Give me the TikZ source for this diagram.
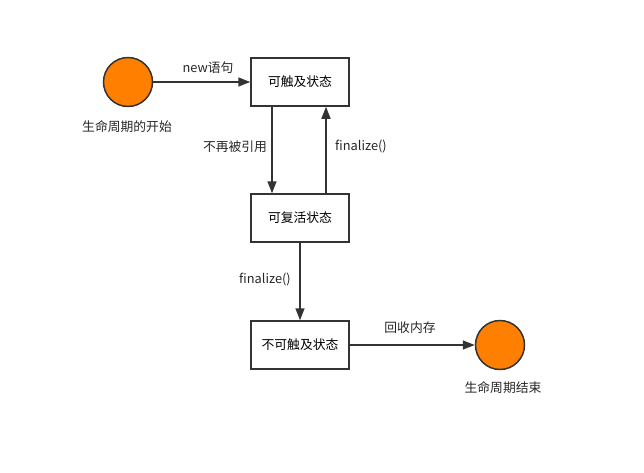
\documentclass[tikz,border=0pt]{standalone}
\usepackage{fontspec}
\setmainfont{Noto Sans CJK SC}
\usetikzlibrary{arrows.meta}

\definecolor{linegray}{HTML}{333333}
\definecolor{dotorange}{HTML}{FF8000}

\tikzset{
	state/.style={draw=linegray, line width=1.5pt, minimum width=98pt, minimum height=48pt, inner sep=0pt, font=\fontsize{12.8}{15}\selectfont},
	endpoint/.style={circle, draw=linegray, fill=dotorange, line width=1.5pt, minimum size=49pt, inner sep=0pt},
	lbl/.style={font=\fontsize{12.8}{15}\selectfont, text=black!85, inner sep=0pt},
	flow/.style={->, line width=1.5pt, draw=linegray},
}

\begin{document}
\begin{tikzpicture}[x=1pt, y=-1pt, >={Triangle[length=12pt,width=9pt]}]
	\useasboundingbox (0,0) rectangle (644,472);
	
	% Start and end points
	\node[endpoint] (start) at (128,82) {};
	\node[lbl] (startlbl) at (127,127) {生命周期的开始};
	\node[endpoint] (finish) at (500,345) {};
	\node[lbl] (finishlbl) at (503,388) {生命周期结束};
	
	% States
	\node[state] (reach) at (300,82) {可触及状态};
	\node[state] (revive) at (300,218) {可复活状态};
	\node[state] (unreach) at (300,345) {不可触及状态};
	
	% Transitions
	\draw[flow] (start) -- (reach);
	\draw[flow] ([xshift=-28pt]reach.south) -- ([xshift=-28pt]revive.north);
	\draw[flow] ([xshift=26pt]revive.north) -- ([xshift=26pt]reach.south);
	\draw[flow] (revive) -- (unreach);
	\draw[flow] (unreach) -- (finish);
	
	\node[lbl] at (208,68) {new语句};
	\node[lbl] at (235,147) {不再被引用};
	\node[lbl] at (361,147) {finalize()};
	\node[lbl] at (265,280) {finalize()};
	\node[lbl] at (410,328) {回收内存};
\end{tikzpicture}
\end{document}
